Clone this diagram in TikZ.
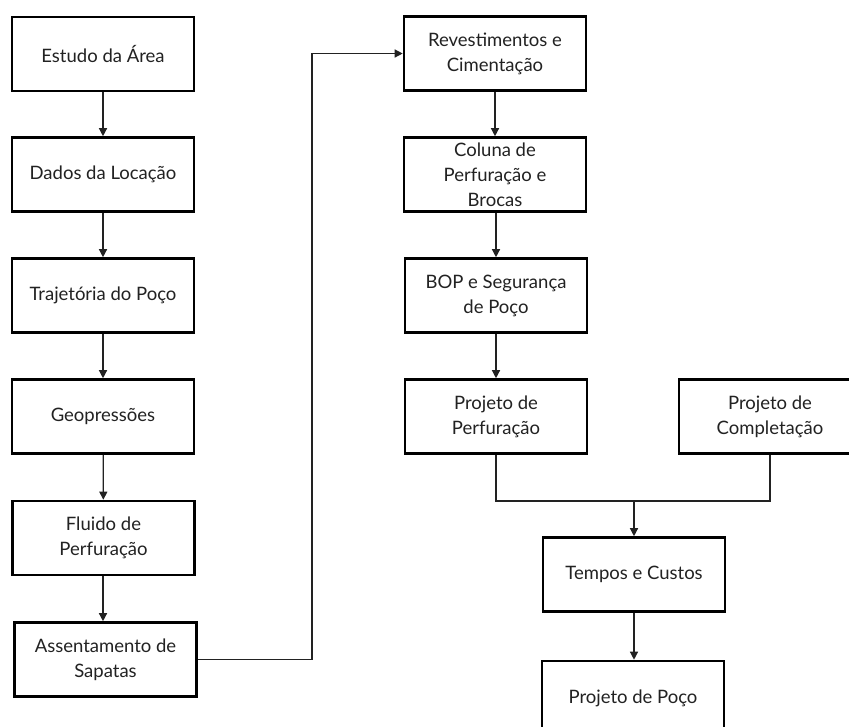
\documentclass[tikz,border=0pt]{standalone}
\usepackage{fontspec}
\setmainfont{Lato}
\usetikzlibrary{arrows.meta}
\definecolor{txt}{HTML}{222222}
\definecolor{ln}{HTML}{222222}
\tikzset{
  box/.style={draw=black, line width=2.6pt, fill=white, minimum width=182pt, minimum height=74pt,
    align=center, inner sep=2pt, text=txt, font=\fontsize{18.5}{25}\selectfont},
  conn/.style={draw=ln, line width=1.3pt},
  arr/.style={conn, -{Triangle[length=8pt,width=8pt]}}
}
\begin{document}
\begin{tikzpicture}[x=1pt,y=-1pt]
\useasboundingbox (0,0) rectangle (849,726);
\clip (0,0) rectangle (849,726);
\fill[white] (0,0) rectangle (849,726);
\node[box] (a) at (103,54) {Estudo da Área};
\node[box] (b) at (103,174.5) {Dados da Locação};
\node[box] (c) at (103,295.5) {Trajetória do Poço};
\node[box] (d) at (103,416.5) {Geopressões};
\node[box] (e) at (103.5,538) {Fluido de\\Perfuração};
\node[box] (f) at (105.5,659.5) {Assentamento de\\Sapatas};
\node[box] (g) at (495,53.5) {Revestimentos e\\Cimentação};
\node[box] (h) at (495,174.5) {Coluna de\\Perfuração e\\Brocas};
\node[box] (i) at (496,295.5) {BOP e Segurança\\de Poço};
\node[box] (j) at (496,416.5) {Projeto de\\Perfuração};
\node[box] (k) at (770,416.5) {Projeto de\\Completação};
\node[box] (l) at (634,574.5) {Tempos e Custos};
\node[box] (m) at (633,698) {Projeto de Poço};
\coordinate (jn) at (634,501);
\draw[arr] (a) -- (b);
\draw[arr] (b) -- (c);
\draw[arr] (c) -- (d);
\draw[arr] (d) -- (e);
\draw[arr] ([xshift=-0.5pt]e.south) -- ([xshift=-0.5pt]e.south |- f.north);
\draw[arr] (f.east) -- (312,659.5) -- (312,53.5) -- (g.west);
\draw[arr] (g) -- (h);
\draw[arr] (h.south -| i.north) -- (i.north);
\draw[arr] (i) -- (j);
\draw[conn] (j.south) |- (jn) -| (k.south);
\draw[arr] (jn) -- (l.north);
\draw[arr] (l.south) -- (l.south |- m.north);
\end{tikzpicture}
\end{document}
